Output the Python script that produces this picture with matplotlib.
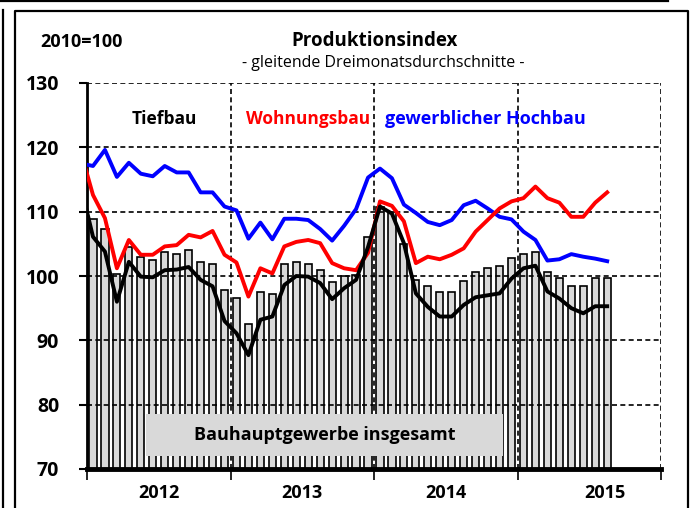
import numpy as np
import matplotlib
matplotlib.use("Agg")
import matplotlib.pyplot as plt
from matplotlib.lines import Line2D
from matplotlib.patches import Rectangle

plt.rcParams["font.family"] = ["Open Sans", "DejaVu Sans"]

# monthly values Jan 2012 - Aug 2015 (bars), lines start Dec 2011
years = ["2012", "2013", "2014", "2015"]
year_pos = [5.5, 17.5, 29.5, 42.8]

insgesamt = [108.8, 107.3, 100.3, 104.5, 102.9, 102.5, 103.7, 103.4, 104.0, 102.2, 101.9, 97.8,
             96.6, 92.5, 97.5, 97.2, 101.8, 102.2, 101.8, 100.9, 99.1, 100.0, 100.1, 106.0,
             110.8, 110.0, 105.0, 99.4, 98.4, 97.5, 97.5, 99.3, 100.6, 101.2, 101.6, 102.8,
             103.4, 103.8, 100.6, 99.7, 98.4, 98.4, 99.7, 99.7]

tiefbau = [113.9,
           106.1, 103.8, 96.0, 102.2, 99.9, 99.8, 100.9, 101.0, 101.4, 99.4, 98.4, 93.0,
           91.1, 87.7, 93.2, 93.7, 98.6, 100.0, 99.9, 98.9, 96.4, 98.1, 99.4, 104.5,
           110.8, 109.7, 105.1, 97.3, 95.2, 93.7, 93.7, 95.5, 96.7, 97.0, 97.3, 99.6,
           101.2, 101.6, 97.6, 96.5, 95.0, 94.2, 95.3, 95.3]

wohnungsbau = [119.2,
               112.6, 109.0, 101.2, 105.6, 103.3, 103.3, 104.6, 104.8, 106.4, 106.0, 107.0, 103.3,
               102.1, 96.8, 101.2, 100.4, 104.6, 105.3, 105.6, 105.1, 102.0, 101.2, 100.9, 103.6,
               111.6, 110.9, 108.5, 102.0, 103.0, 102.6, 103.3, 104.3, 106.9, 108.7, 110.5, 111.6,
               112.1, 113.9, 112.1, 111.4, 109.2, 109.2, 111.4, 113.0]

hochbau = [117.5,
           117.1, 119.6, 115.4, 117.6, 115.9, 115.5, 117.1, 116.1, 116.1, 113.0, 113.0, 110.8,
           110.2, 105.8, 108.3, 105.7, 108.9, 108.9, 108.7, 107.3, 105.5, 107.8, 110.4, 115.3,
           116.7, 115.2, 111.1, 109.8, 108.4, 107.9, 108.7, 111.0, 111.7, 110.5, 109.2, 108.8,
           106.9, 105.6, 102.4, 102.6, 103.4, 103.0, 102.7, 102.3]

x_bar = np.arange(len(insgesamt))
x_line = np.arange(-1, len(tiefbau) - 1)

fig = plt.figure(figsize=(6.94, 5.08), dpi=100)
ax = fig.add_axes([87 / 694, 39 / 508, 574 / 694, 386 / 508])

ax.bar(x_bar, np.array(insgesamt) - 70, bottom=70, width=0.6, color="#d9d9d9",
       edgecolor="black", linewidth=1.2, zorder=2)

dash = (0, (3, 2))
for v in [80, 90, 100, 110, 120, 130]:
    ax.axhline(v, color="black", lw=1.2, ls=dash, zorder=2.5)
for v in [11.5, 23.5, 35.5, 47.5]:
    ax.axvline(v, color="black", lw=1.2, ls=dash, zorder=2.5)

ax.add_patch(Rectangle((4.45, 72.0), 29.85, 6.55, facecolor="#d9d9d9",
                       edgecolor="none", zorder=3))
ax.text(19.4, 75.3, "Bauhauptgewerbe insgesamt", ha="center", va="center",
        fontsize=13, fontweight="bold", zorder=4)

ax.plot(x_line, hochbau, color="#0000ff", lw=2.8, zorder=5)
ax.plot(x_line, wohnungsbau, color="#ff0000", lw=2.8, zorder=5)
ax.plot(x_line, tiefbau, color="black", lw=2.8, zorder=6)

ax.text(6.0, 124.4, "Tiefbau", ha="center", va="center", fontsize=12.5, fontweight="bold")
ax.text(12.8, 124.4, "Wohnungsbau", ha="left", va="center", fontsize=12.5,
        fontweight="bold", color="#ff0000")
ax.text(24.4, 124.4, "gewerblicher Hochbau", ha="left", va="center", fontsize=13,
        fontweight="bold", color="#0000ff")

ax.set_xlim(-0.5, 47.5)
ax.set_ylim(70, 130)

ax.set_yticks(range(70, 131, 10))
ax.tick_params(axis="y", direction="out", length=6, width=1.5, labelsize=14, pad=14)
for lab in ax.get_yticklabels():
    lab.set_fontweight("bold")

ax.set_xticks([-0.5, 11.5, 23.5, 35.5, 47.5])
ax.set_xticklabels([])
ax.set_xticks(year_pos, minor=True)
ax.set_xticklabels(years, minor=True)
ax.tick_params(axis="x", which="major", direction="out", length=8, width=1.2)
ax.tick_params(axis="x", which="minor", length=0, labelsize=13, pad=11)
for lab in ax.get_xticklabels(minor=True):
    lab.set_fontweight("bold")

for s in ["top", "right"]:
    ax.spines[s].set_visible(False)
ax.spines["left"].set_linewidth(2)
ax.spines["bottom"].set_linewidth(3.5)
ax.spines["bottom"].set_zorder(7)

fig.text(40 / 694, 1 - 42 / 508, "2010=100", ha="left", va="center",
         fontsize=13, fontweight="bold")
fig.text(375 / 694, 1 - 41 / 508, "Produktionsindex", ha="center", va="center",
         fontsize=13.5, fontweight="bold")
fig.text(383 / 694, 1 - 63 / 508, "- gleitende Dreimonatsdurchschnitte -",
         ha="center", va="center", fontsize=11.5)

# surrounding frame
fw, fh = 694, 508
def fline(xs, ys, lw):
    fig.add_artist(Line2D([x / fw for x in xs], [1 - y / fh for y in ys],
                          color="black", lw=lw))

fline([15, 15, 688, 688], [508, 11, 11, 508], 1.6)
fline([3, 3], [508, 10], 1.6)
fline([0, 668], [0.8, 0.8], 1.6)

fig.savefig("out.png", dpi=100)
